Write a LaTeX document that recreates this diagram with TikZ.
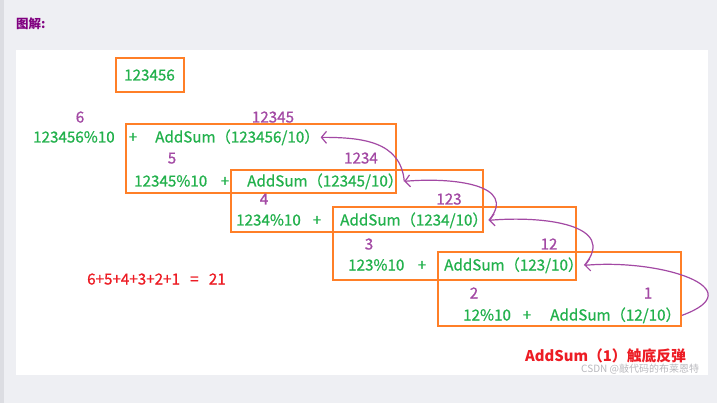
\documentclass[tikz,border=0pt]{standalone}
\usepackage{fontspec}
\setmainfont{Noto Sans CJK SC}
\newfontfamily\paintfont{Noto Sans CJK SC}[FakeBold=0.8]
\usetikzlibrary{arrows.meta}
\definecolor{paintgreen}{RGB}{34,177,76}
\definecolor{paintorange}{RGB}{255,127,39}
\definecolor{paintpurple}{RGB}{163,73,164}
\definecolor{paintred}{RGB}{237,28,36}
\definecolor{pagegray}{RGB}{238,239,243}
\definecolor{stripgray}{RGB}{220,221,226}

\begin{document}
\begin{tikzpicture}[x=1pt,y=-1pt,
  expr/.style={font=\paintfont\fontsize{15.2}{17}\selectfont,text=paintgreen,inner sep=0pt,anchor=base west},
  call/.style={expr,inner xsep=1pt},
  plus/.style={expr,anchor=base},
  quot/.style={font=\paintfont\fontsize{15.2}{17}\selectfont,text=paintpurple,inner sep=0pt,anchor=base},
  calbox/.style={draw=paintorange,line width=1.4pt},
  ret/.style={draw=paintpurple,line width=1.2pt,-{Straight Barb[length=5pt,width=12pt]}}]

% page and white panel
\fill[pagegray] (0,0) rectangle (717,403);
\fill[stripgray] (0,0) rectangle (4,403);
\fill[white] (16,50) rectangle (708,375);
\useasboundingbox (0,0) rectangle (717,403);

\node[anchor=base west,inner sep=0pt,text={rgb,255:red,128;green,0;blue,128},font=\fontsize{12.5}{14}\selectfont\bfseries] (title) at (16,29) {图解:};

% the number
\draw[calbox] (116,58) rectangle (184,92);
\node[expr] (n0) at (124,80.5) {123456};

% boxes
\draw[calbox] (126,124) rectangle (396,193);
\draw[calbox] (231,170) rectangle (483,232);
\draw[calbox] (333,207) rectangle (576,280);
\draw[calbox] (438,252) rectangle (681,326);

% row 1
\node[quot] (d1) at (80,122.5) {6};
\node[quot] (q1) at (273,122.5) {12345};
\node[expr] (a1) at (33,142.5) {123456\%10};
\node[plus] (p1) at (133,142.5) {+};
\node[call] (c1) at (154,142.5) {AddSum（123456/10）};

% row 2
\node[quot] (d2) at (172,163.5) {5};
\node[quot] (q2) at (361,163.5) {1234};
\node[expr] (a2) at (134,186.5) {12345\%10};
\node[plus] (p2) at (225,186.5) {+};
\node[call] (c2) at (246,186.5) {AddSum（12345/10）};

% row 3
\node[quot] (d3) at (264,204.5) {4};
\node[quot] (q3) at (449,204.5) {123};
\node[expr] (a3) at (236,225.5) {1234\%10};
\node[plus] (p3) at (317,225.5) {+};
\node[call] (c3) at (339,225.5) {AddSum（1234/10）};

% row 4
\node[quot] (d4) at (369,249.5) {3};
\node[quot] (q4) at (549,249.5) {12};
\node[expr] (a4) at (348,270.5) {123\%10};
\node[plus] (p4) at (422,270.5) {+};
\node[call] (c4) at (443,270.5) {AddSum（123/10）};

% row 5
\node[quot] (d5) at (474,298.5) {2};
\node[quot] (q5) at (648,298.5) {1};
\node[expr] (a5) at (463,320.5) {12\%10};
\node[plus] (p5) at (527,320.5) {+};
\node[call] (c5) at (549,320.5) {AddSum（12/10）};

% returns
\draw[ret] (c2.east) to[out=95,in=0,looseness=1.1] (c1.east);
\draw[ret] (c3.east) to[out=50,in=5,looseness=1.3] (c2.east);
\draw[ret] (c4.east) to[out=50,in=5,looseness=1.3] (c3.east);
\draw[ret] (c5.east) to[out=20,in=5,looseness=1.8] (c4.east);

\node[anchor=base west,inner sep=0pt,text=paintred,font=\paintfont\fontsize{15.2}{17}\selectfont] (sum) at (87,284.5) {6+5+4+3+2+1\ \ \ =\ \ \ 21};
\node[anchor=base west,inner sep=0pt,text=paintred,font=\fontsize{14.8}{17}\selectfont\bfseries] (hit) at (525,361.5) {AddSum（1）触底反弹};
\node[anchor=base west,inner sep=0pt,text={rgb,255:red,185;green,185;blue,190},font=\fontsize{10}{12}\selectfont] (mark) at (581,372) {CSDN @敲代码的布莱恩特};
\end{tikzpicture}
\end{document}
